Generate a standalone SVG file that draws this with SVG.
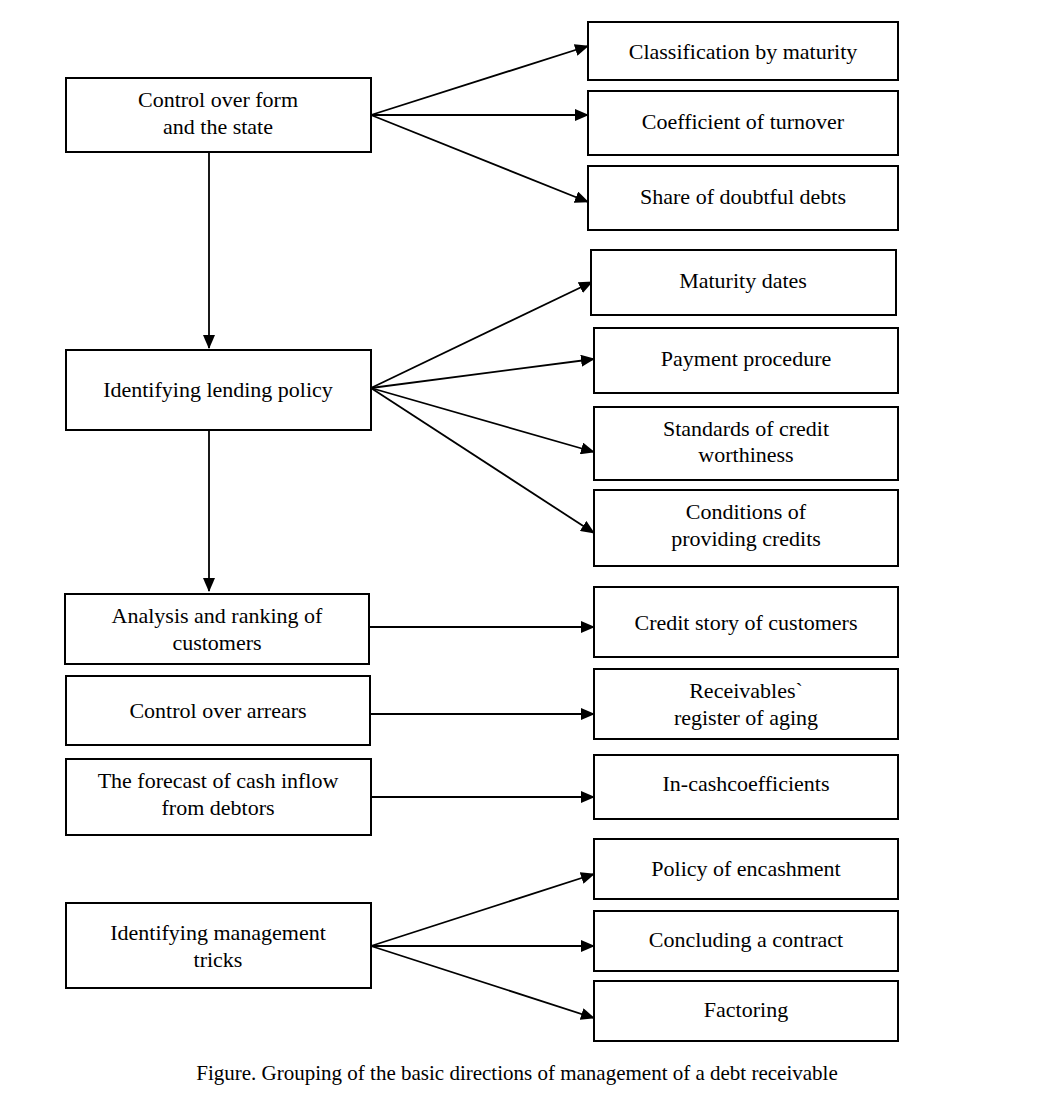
<svg xmlns="http://www.w3.org/2000/svg" width="1060" height="1102" viewBox="0 0 1060 1102">
<style>
.b{fill:#fff;stroke:#000;stroke-width:2}
.t{font-family:"Liberation Serif","Times New Roman",serif;font-size:22px;fill:#000;text-anchor:middle}
.c{stroke:#000;stroke-width:1.8;fill:none;marker-end:url(#ah)}
</style>
<defs>
<marker id="ah" markerWidth="14" markerHeight="12" refX="13" refY="6" orient="auto" markerUnits="userSpaceOnUse">
<path d="M0,0 L14,6 L0,12 Z" fill="#000"/>
</marker>
</defs>
<rect width="1060" height="1102" fill="#fff"/>
<g id="connectors">
<line class="c" x1="371" y1="115" x2="588" y2="46"/>
<line class="c" x1="371" y1="115" x2="588" y2="115"/>
<line class="c" x1="371" y1="115" x2="588" y2="202"/>
<line class="c" x1="209" y1="152" x2="209" y2="348"/>
<line class="c" x1="209" y1="430" x2="209" y2="591"/>
<line class="c" x1="371" y1="388" x2="592" y2="282"/>
<line class="c" x1="371" y1="388" x2="594" y2="359"/>
<line class="c" x1="371" y1="388" x2="594" y2="452"/>
<line class="c" x1="371" y1="388" x2="594" y2="533"/>
<line class="c" x1="369" y1="627" x2="594" y2="627"/>
<line class="c" x1="370" y1="714" x2="594" y2="714"/>
<line class="c" x1="371" y1="797" x2="594" y2="797"/>
<line class="c" x1="371" y1="946" x2="594" y2="874"/>
<line class="c" x1="371" y1="946" x2="594" y2="946"/>
<line class="c" x1="371" y1="946" x2="594" y2="1018"/>
</g>
<g id="n1"><rect class="b" x="66" y="78" width="305" height="74"/><text class="t" x="218" y="107">Control over form</text><text class="t" x="218" y="134">and the state</text></g>
<g id="n2"><rect class="b" x="66" y="350" width="305" height="80"/><text class="t" x="218" y="397">Identifying lending policy</text></g>
<g id="n3"><rect class="b" x="65" y="594" width="304" height="70"/><text class="t" x="217" y="623">Analysis and ranking of</text><text class="t" x="217" y="650">customers</text></g>
<g id="n4"><rect class="b" x="66" y="676" width="304" height="69"/><text class="t" x="218" y="718">Control over arrears</text></g>
<g id="n5"><rect class="b" x="66" y="759" width="305" height="76"/><text class="t" x="218" y="788">The forecast of cash inflow</text><text class="t" x="218" y="815">from debtors</text></g>
<g id="n6"><rect class="b" x="66" y="903" width="305" height="85"/><text class="t" x="218" y="940">Identifying management</text><text class="t" x="218" y="967">tricks</text></g>
<g id="r1"><rect class="b" x="588" y="22" width="310" height="58"/><text class="t" x="743" y="59">Classification by maturity</text></g>
<g id="r2"><rect class="b" x="588" y="91" width="310" height="64"/><text class="t" x="743" y="129">Coefficient of turnover</text></g>
<g id="r3"><rect class="b" x="588" y="166" width="310" height="64"/><text class="t" x="743" y="204">Share of doubtful debts</text></g>
<g id="r4"><rect class="b" x="591" y="250" width="305" height="65"/><text class="t" x="743" y="288">Maturity dates</text></g>
<g id="r5"><rect class="b" x="594" y="328" width="304" height="65"/><text class="t" x="746" y="366">Payment procedure</text></g>
<g id="r6"><rect class="b" x="594" y="407" width="304" height="73"/><text class="t" x="746" y="436">Standards of credit</text><text class="t" x="746" y="462">worthiness</text></g>
<g id="r7"><rect class="b" x="594" y="490" width="304" height="76"/><text class="t" x="746" y="519">Conditions of</text><text class="t" x="746" y="546">providing credits</text></g>
<g id="r8"><rect class="b" x="594" y="587" width="304" height="70"/><text class="t" x="746" y="630">Credit story of customers</text></g>
<g id="r9"><rect class="b" x="594" y="669" width="304" height="70"/><text class="t" x="746" y="698">Receivables`</text><text class="t" x="746" y="725">register of aging</text></g>
<g id="r10"><rect class="b" x="594" y="755" width="304" height="64"/><text class="t" x="746" y="791">In-cashcoefficients</text></g>
<g id="r11"><rect class="b" x="594" y="839" width="304" height="60"/><text class="t" x="746" y="876">Policy of encashment</text></g>
<g id="r12"><rect class="b" x="594" y="911" width="304" height="60"/><text class="t" x="746" y="947">Concluding a contract</text></g>
<g id="r13"><rect class="b" x="594" y="981" width="304" height="60"/><text class="t" x="746" y="1017">Factoring</text></g>
<text class="t" x="517" y="1080" style="font-size:21px">Figure. Grouping of the basic directions of management of a debt receivable</text>
</svg>
